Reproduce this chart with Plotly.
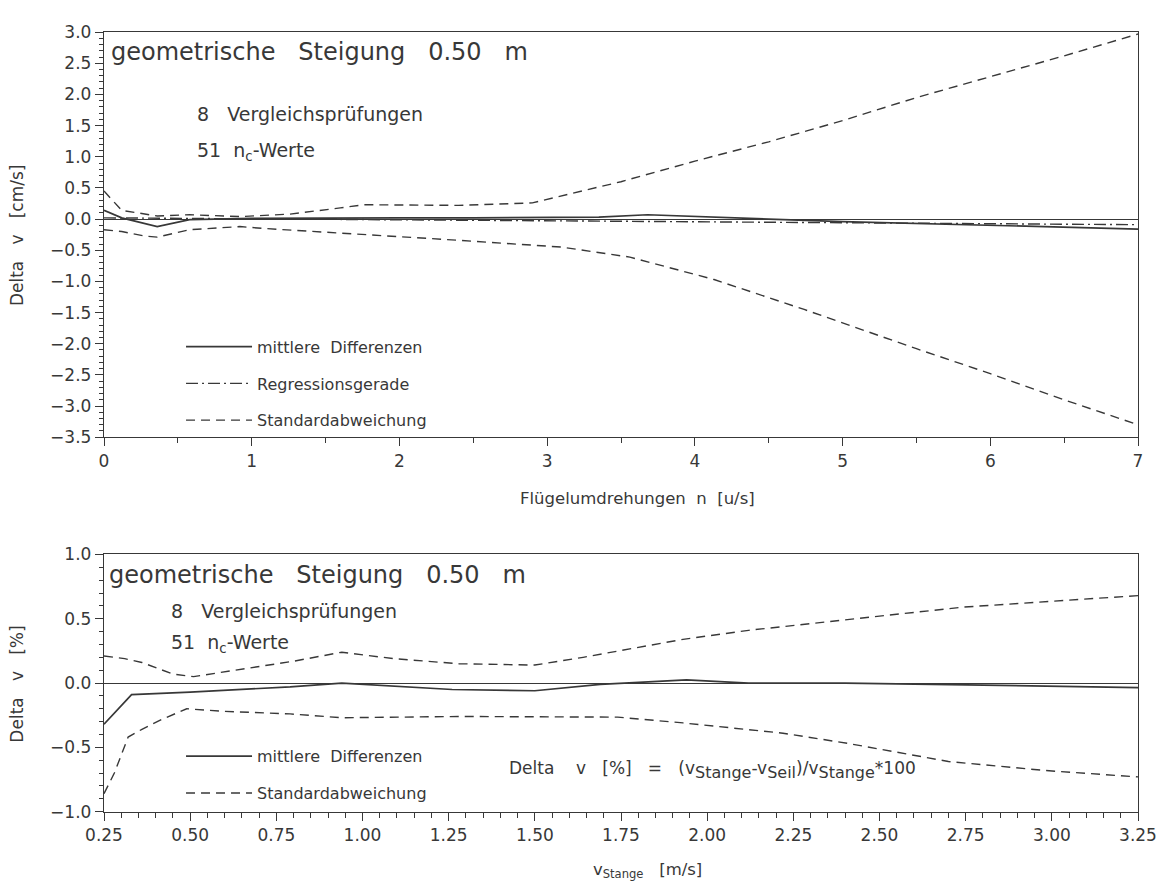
import plotly.graph_objects as go
from plotly.subplots import make_subplots

# ---- upper panel: deviation in cm/s over propeller revolutions n ----
n_mean = [0.0, 0.12, 0.36, 0.58, 1.0, 1.5, 2.0, 2.5, 3.0, 3.35, 3.68, 4.0, 4.5, 5.0, 5.5, 6.0, 6.5, 7.0]
dv_mean = [0.14, 0.02, -0.12, -0.01, 0.01, 0.02, 0.02, 0.02, 0.02, 0.03, 0.07, 0.04, 0.0, -0.04, -0.07, -0.10, -0.13, -0.16]

n_reg = [0.0, 7.0]
dv_reg = [0.02, -0.09]

n_sd_up = [0.0, 0.12, 0.36, 0.58, 0.92, 1.26, 1.6, 1.76, 2.4, 2.9, 3.5, 4.0, 4.5, 5.0, 5.5, 6.0, 6.5, 7.0]
sd_up = [0.45, 0.14, 0.05, 0.07, 0.04, 0.08, 0.18, 0.23, 0.22, 0.26, 0.60, 0.93, 1.24, 1.58, 1.95, 2.28, 2.62, 2.97]

n_sd_lo = [0.0, 0.12, 0.27, 0.36, 0.58, 0.92, 1.08, 1.71, 2.0, 2.4, 3.1, 3.56, 4.13, 4.74, 5.5, 6.0, 6.5, 7.0]
sd_lo = [-0.17, -0.20, -0.27, -0.29, -0.17, -0.12, -0.15, -0.24, -0.28, -0.34, -0.45, -0.61, -0.97, -1.45, -2.08, -2.48, -2.90, -3.30]

# ---- lower panel: deviation in % over rod velocity ----
v_mean = [0.25, 0.33, 0.5, 0.79, 0.94, 1.26, 1.5, 1.69, 1.94, 2.12, 2.4, 2.65, 3.25]
pct_mean = [-0.32, -0.09, -0.07, -0.03, 0.0, -0.05, -0.06, -0.01, 0.025, 0.0, 0.0, -0.01, -0.035]

v_sd_up = [0.25, 0.31, 0.36, 0.45, 0.51, 0.58, 0.80, 0.94, 1.09, 1.28, 1.5, 1.64, 1.93, 2.12, 2.4, 2.74, 3.25]
pct_sd_up = [0.21, 0.19, 0.16, 0.07, 0.05, 0.08, 0.17, 0.24, 0.19, 0.15, 0.14, 0.20, 0.34, 0.41, 0.49, 0.59, 0.68]

v_sd_lo = [0.25, 0.28, 0.32, 0.36, 0.42, 0.49, 0.60, 0.79, 0.94, 1.28, 1.74, 1.93, 2.22, 2.41, 2.70, 2.98, 3.25]
pct_sd_lo = [-0.86, -0.70, -0.42, -0.36, -0.28, -0.20, -0.22, -0.24, -0.27, -0.26, -0.265, -0.31, -0.39, -0.47, -0.61, -0.68, -0.73]

INK = "#383838"
FONT = "DejaVu Sans, Verdana, sans-serif"
NB = "\u00a0"

fig = make_subplots(rows=2, cols=1)

solid = dict(color=INK, width=1.7)
dashed = dict(color=INK, width=1.4, dash="9px,6px")
dashdot = dict(color=INK, width=1.4, dash="12px,4px,2px,4px")

# upper panel traces
fig.add_trace(go.Scatter(x=n_mean, y=dv_mean, mode="lines", line=solid,
                         name="mittlere" + NB * 2 + "Differenzen", legend="legend",
                         legendgroup="a"), row=1, col=1)
fig.add_trace(go.Scatter(x=n_reg, y=dv_reg, mode="lines", line=dashdot,
                         name="Regressionsgerade", legend="legend",
                         legendgroup="b"), row=1, col=1)
fig.add_trace(go.Scatter(x=n_sd_up, y=sd_up, mode="lines", line=dashed,
                         name="Standardabweichung", legend="legend",
                         legendgroup="c"), row=1, col=1)
fig.add_trace(go.Scatter(x=n_sd_lo, y=sd_lo, mode="lines", line=dashed,
                         showlegend=False, legendgroup="c"), row=1, col=1)

# lower panel traces
fig.add_trace(go.Scatter(x=v_mean, y=pct_mean, mode="lines", line=solid,
                         name="mittlere" + NB * 2 + "Differenzen", legend="legend2",
                         legendgroup="d"), row=2, col=1)
fig.add_trace(go.Scatter(x=v_sd_up, y=pct_sd_up, mode="lines", line=dashed,
                         name="Standardabweichung", legend="legend2",
                         legendgroup="e"), row=2, col=1)
fig.add_trace(go.Scatter(x=v_sd_lo, y=pct_sd_lo, mode="lines", line=dashed,
                         showlegend=False, legendgroup="e"), row=2, col=1)

axis_common = dict(showgrid=False, showline=True, linecolor=INK, linewidth=1.4,
                   mirror=True, ticks="outside", tickcolor=INK, tickwidth=1.2,
                   ticklen=8, tickfont=dict(family=FONT, size=17, color=INK))

fig.update_xaxes(range=[0, 7], dtick=1, tick0=0, zeroline=False,
                 minor=dict(dtick=0.5, ticks="outside", ticklen=5, tickcolor=INK),
                 domain=[0, 1], **axis_common, row=1, col=1)
fig.update_yaxes(range=[-3.5, 3.0], dtick=0.5, tick0=0, tickformat=".1f",
                 zeroline=True, zerolinecolor=INK, zerolinewidth=1,
                 minor=dict(dtick=0.1, ticks="outside", ticklen=4, tickcolor=INK),
                 domain=[0.5101, 0.9746], **axis_common, row=1, col=1)

fig.update_xaxes(range=[0.25, 3.25], dtick=0.25, tick0=0.25, tickformat=".2f", zeroline=False,
                 minor=dict(dtick=0.05, ticks="outside", ticklen=5, tickcolor=INK),
                 domain=[0, 1], **axis_common, row=2, col=1)
fig.update_yaxes(range=[-1.0, 1.0], dtick=0.5, tick0=0, tickformat=".1f",
                 zeroline=True, zerolinecolor=INK, zerolinewidth=1,
                 minor=dict(dtick=0.1, ticks="outside", ticklen=4, tickcolor=INK),
                 domain=[0.0807, 0.3756], **axis_common, row=2, col=1)


def note(text, x, y, size, xanchor="left", xref="x domain", angle=0):
    return dict(text=text, x=x, y=y, xref=xref, yref="paper", xanchor=xanchor,
                yanchor="middle", showarrow=False, textangle=angle,
                font=dict(family=FONT, size=size, color=INK))


def sub(word):
    return "<sub><span style='font-size:16px'>" + word + "</span></sub>"


heading = "geometrische" + NB * 3 + "Steigung" + NB * 3 + "0.50" + NB * 3 + "m"
count_line = "8" + NB * 3 + "Vergleichsprüfungen"
values_line = "51" + NB * 2 + "n<sub>c</sub>-Werte"
formula = ("Delta" + NB * 4 + "v" + NB * 3 + "[%]" + NB * 3 + "=" + NB * 3
           + "(v" + sub("Stange") + "-v" + sub("Seil") + ")/v" + sub("Stange") + "*100")

fig.update_layout(
    width=1168, height=892,
    margin=dict(l=104, r=30, t=0, b=0),
    paper_bgcolor="white", plot_bgcolor="white",
    font=dict(family=FONT, color=INK),
    annotations=[
        note(heading, 0.005, 0.9518, 24),
        note(count_line, 0.088, 0.8812, 19),
        note(values_line, 0.088, 0.8374, 19),
        note(heading, 0.003, 0.352, 24),
        note(count_line, 0.063, 0.3105, 19),
        note(values_line, 0.063, 0.2735, 19),
        note(formula, 0.39, 0.1289, 17),
        # axis titles
        note("Flügelumdrehungen" + NB * 2 + "n" + NB * 2 + "[u/s]", 0.516, 1 - 500 / 892,
             16.5, xanchor="center"),
        note("v<sub>Stange</sub>" + NB * 3 + "[m/s]", 0.526, 1 - 880 / 892,
             16.5, xanchor="center"),
        note("Delta" + NB * 3 + "v" + NB * 3 + "[cm/s]", -0.084, 0.742, 17,
             xanchor="center", xref="paper", angle=-90),
        note("Delta" + NB * 3 + "v" + NB * 3 + "[%]", -0.084, 0.2265, 17,
             xanchor="center", xref="paper", angle=-90),
    ],
    legend=dict(x=0.0745, y=1 - 327 / 892, xanchor="left", yanchor="top",
                bgcolor="rgba(0,0,0,0)", tracegroupgap=13, itemwidth=66,
                font=dict(family=FONT, size=16, color=INK)),
    legend2=dict(x=0.0745, y=1 - 746 / 892, xanchor="left", yanchor="top",
                 bgcolor="rgba(0,0,0,0)", tracegroupgap=13, itemwidth=66,
                 font=dict(family=FONT, size=16, color=INK)),
)

fig.write_html("out.html")
